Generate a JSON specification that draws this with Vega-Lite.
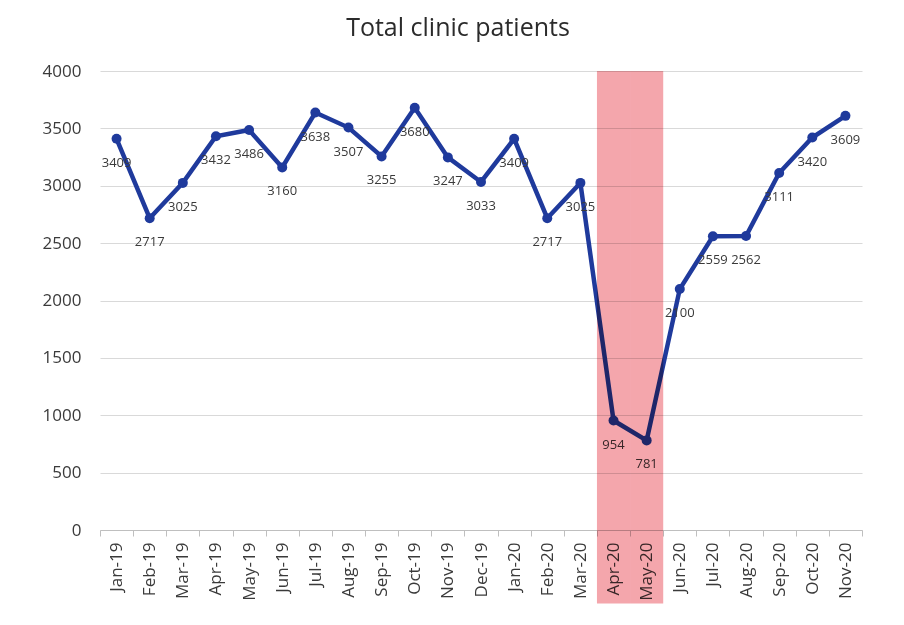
{
  "$schema": "https://vega.github.io/schema/vega-lite/v6.json",
  "width": 762,
  "height": 459,
  "autosize": "none",
  "padding": {"left": 100, "top": 71, "right": 42, "bottom": 95},
  "background": "white",
  "config": {"view": {"stroke": null}},
  "title": {"text": "Total clinic patients", "fontSize": 25, "font": "Open Sans", "fontWeight": "normal", "color": "#2b2b2b", "offset": 21, "dx": -23},
  "data": {"values": [
    {"month": "Jan-19", "patients": 3409},
    {"month": "Feb-19", "patients": 2717},
    {"month": "Mar-19", "patients": 3025},
    {"month": "Apr-19", "patients": 3432},
    {"month": "May-19", "patients": 3486},
    {"month": "Jun-19", "patients": 3160},
    {"month": "Jul-19", "patients": 3638},
    {"month": "Aug-19", "patients": 3507},
    {"month": "Sep-19", "patients": 3255},
    {"month": "Oct-19", "patients": 3680},
    {"month": "Nov-19", "patients": 3247},
    {"month": "Dec-19", "patients": 3033},
    {"month": "Jan-20", "patients": 3409},
    {"month": "Feb-20", "patients": 2717},
    {"month": "Mar-20", "patients": 3025},
    {"month": "Apr-20", "patients": 954},
    {"month": "May-20", "patients": 781},
    {"month": "Jun-20", "patients": 2100},
    {"month": "Jul-20", "patients": 2559},
    {"month": "Aug-20", "patients": 2562},
    {"month": "Sep-20", "patients": 3111},
    {"month": "Oct-20", "patients": 3420},
    {"month": "Nov-20", "patients": 3609}
  ]},
  "encoding": {
    "x": {
      "field": "month", "type": "ordinal", "sort": null,
      "scale": {"paddingInner": 0, "paddingOuter": 0},
      "axis": {
        "title": null, "grid": false, "tickBand": "extent",
        "tickColor": "#bfbfbf", "tickSize": 6, "domainColor": "#bfbfbf",
        "labelAngle": -90, "labelAlign": "right", "labelBaseline": "middle",
        "labelFont": "Open Sans", "labelFontSize": 17, "labelColor": "#3a3a3a", "labelPadding": 6
      }
    }
  },
  "layer": [
    {
      "mark": {"type": "line", "color": "#1f3a9c", "strokeWidth": 4.5},
      "encoding": {
        "y": {
          "field": "patients", "type": "quantitative",
          "scale": {"domain": [0, 4000], "nice": false},
          "axis": {
            "title": null, "values": [0, 500, 1000, 1500, 2000, 2500, 3000, 3500, 4000], "format": "d",
            "grid": true, "gridColor": "#d9d9d9", "domain": false, "ticks": false,
            "labelPadding": 19, "labelFont": "Open Sans", "labelFontSize": 17, "labelColor": "#3a3a3a"
          }
        }
      }
    },
    {
      "mark": {"type": "point", "filled": true, "opacity": 1, "color": "#1f3a9c", "size": 100},
      "encoding": {"y": {"field": "patients", "type": "quantitative"}}
    },
    {
      "mark": {"type": "text", "dy": 24, "fontSize": 13, "font": "Open Sans", "color": "#3a3a3a"},
      "encoding": {
        "y": {"field": "patients", "type": "quantitative"},
        "text": {"field": "patients", "type": "quantitative", "format": "d"}
      }
    },
    {
      "transform": [{"filter": "datum.month === 'Apr-20' || datum.month === 'May-20'"}],
      "mark": {"type": "rect", "color": "#f4a6ac", "opacity": 1, "blend": "multiply", "clip": false},
      "encoding": {
        "y": {"datum": 4000},
        "y2": {"datum": -640}
      }
    }
  ]
}
